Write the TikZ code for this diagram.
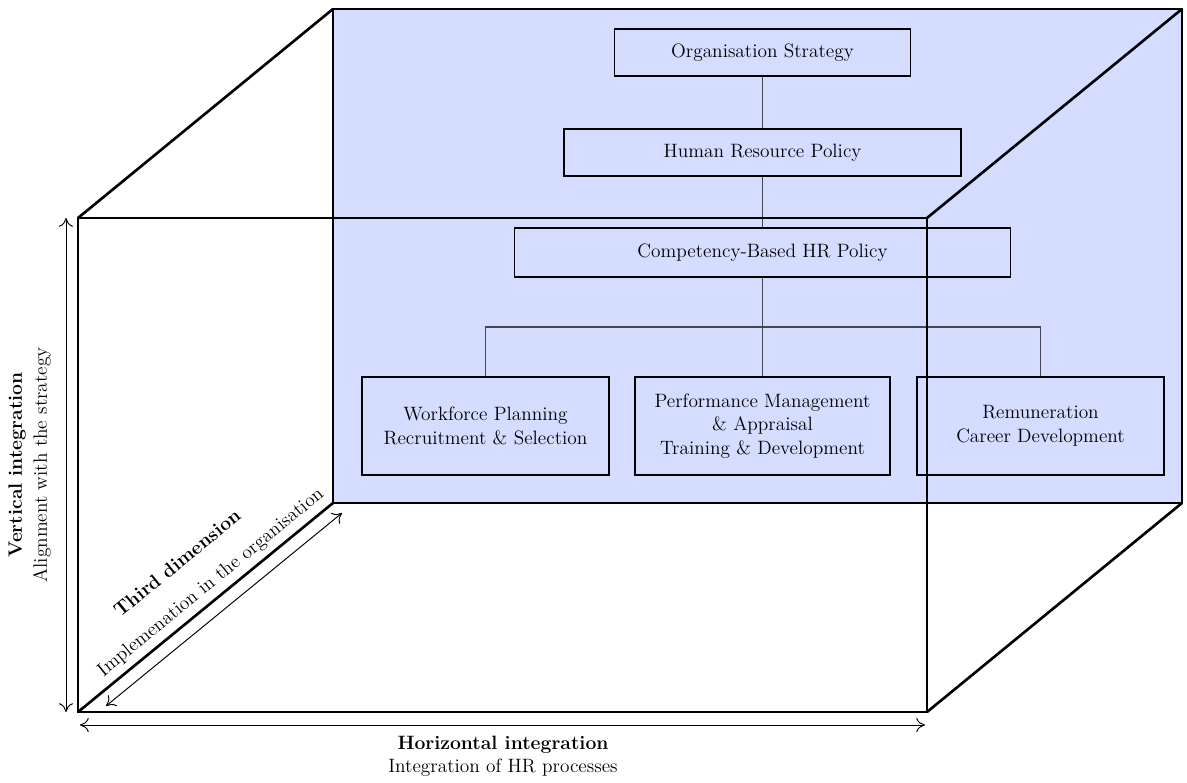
\documentclass[tikz,border=0pt]{standalone}
\usetikzlibrary{positioning,calc,arrows.meta}
\definecolor{panelblue}{RGB}{212,220,255}
\definecolor{linkgrey}{RGB}{70,70,80}

\begin{document}
\begin{tikzpicture}[x=0.02cm, y=-0.02cm,
  every node/.style={font=\fontsize{11}{13.5}\selectfont},
  hrbox/.style={draw, line width=0.8pt, fill=panelblue, align=center},
  processbox/.style={hrbox, line width=1.2pt, minimum height=1.96cm},
  link/.style={draw=linkgrey, line width=0.6pt},
  cubeedge/.style={line width=1.5pt},
  dimarrow/.style={{To[length=5pt,width=8pt]}-{To[length=5pt,width=8pt]}, line width=0.55pt},
  dimtitle/.style={font=\fontsize{11}{13.5}\selectfont\bfseries, inner sep=0.5pt},
  dimtext/.style={inner sep=0.5pt}]
  \useasboundingbox (0,0) rectangle (1187,783);

  % cube corners (front / back)
  \coordinate (ftl) at (78,218);
  \coordinate (ftr) at (927,218);
  \coordinate (fbl) at (78,712);
  \coordinate (fbr) at (927,712);
  \coordinate (btl) at (333,9);
  \coordinate (btr) at (1182,9);
  \coordinate (bbl) at (333,503);
  \coordinate (bbr) at (1182,503);

  % back panel
  \fill[panelblue] (btl) rectangle (bbr);
  \draw[cubeedge] (btl) rectangle (bbr);

  % hierarchy
  \node[hrbox, minimum width=5.92cm, minimum height=0.94cm] (orgstrat) at (762.5,52.5) {Organisation Strategy};
  \node[hrbox, minimum width=7.94cm, minimum height=0.94cm] (hrpolicy) at (762.5,152.5) {Human Resource Policy};
  \node[hrbox, minimum width=9.92cm, minimum height=0.98cm] (cbpolicy) at (762.5,252.5) {Competency-Based HR Policy};
  \node[processbox, minimum width=4.94cm] (workforce) at (485.5,426) {Workforce Planning\\Recruitment \& Selection};
  \node[processbox, minimum width=5.1cm] (performance) at (762.5,426) {Performance Management\\\& Appraisal\\Training \& Development};
  \node[processbox, minimum width=4.94cm] (remuneration) at (1040.5,426) {Remuneration\\Career Development};

  \coordinate (branch) at (762.5,327);
  \draw[link] (orgstrat) -- (hrpolicy);
  \draw[link] (hrpolicy) -- (cbpolicy);
  \draw[link] (cbpolicy) -- (branch);
  \draw[link] (workforce.north) |- (branch) -| (remuneration.north);
  \draw[link] (branch) -- (performance.north);

  % depth edges and front face
  \draw[cubeedge] (ftl) -- (btl);
  \draw[cubeedge] (ftr) -- (btr);
  \draw[cubeedge] (fbl) -- (bbl);
  \draw[cubeedge] (fbr) -- (bbr);
  \draw[cubeedge] (ftl) rectangle (fbr);

  % dimension arrows
  \coordinate (vtop) at (66,218);
  \coordinate (vbot) at (66,712);
  \coordinate (hleft) at (80,725);
  \coordinate (hright) at (925,725);
  \coordinate (dlow) at (106,706);
  \coordinate (dhigh) at (342,513);
  \draw[dimarrow] (vtop) -- (vbot);
  \draw[dimarrow] (hleft) -- (hright);
  \draw[dimarrow] (dlow) -- (dhigh);

  \node[rotate=90, dimtitle] (vertlabel) at (17,465) {Vertical integration};
  \node[rotate=90, dimtext] (vertsub) at (42,465) {Alignment with the strategy};
  \node[dimtitle] (horlabel) at (503,745) {Horizontal integration};
  \node[dimtext] (horsub) at (503,768) {Integration of HR processes};
  \node[rotate=39.3, dimtitle] (thirdlabel) at (177,563) {Third dimension};
  \node[rotate=39.3, dimtext] (thirdsub) at (211,583) {Implemenation in the organisation};
\end{tikzpicture}
\end{document}
